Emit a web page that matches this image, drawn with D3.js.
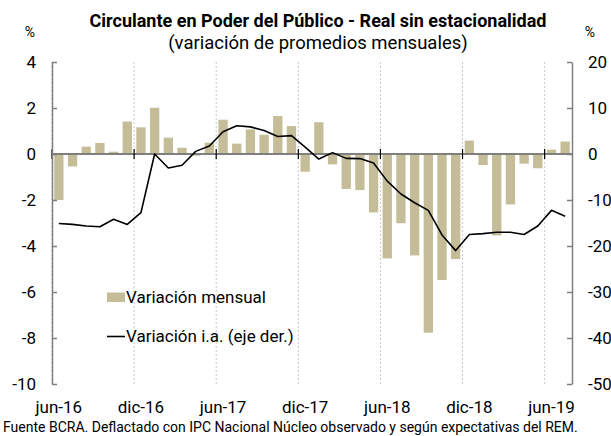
<!DOCTYPE html>
<html>
<head>
<meta charset="utf-8">
<script src="https://cdn.jsdelivr.net/npm/d3@7"></script>
<style>
  html, body { margin: 0; padding: 0; background: #fff; }
  svg { display: block; font-family: Roboto, "Noto Sans", sans-serif; }
</style>
</head>
<body>
<svg id="chart" width="611" height="436"></svg>
<script>
const months = ["jun-16","jul-16","ago-16","sep-16","oct-16","nov-16","dic-16","ene-17","feb-17","mar-17","abr-17","may-17",
  "jun-17","jul-17","ago-17","sep-17","oct-17","nov-17","dic-17","ene-18","feb-18","mar-18","abr-18","may-18",
  "jun-18","jul-18","ago-18","sep-18","oct-18","nov-18","dic-18","ene-19","feb-19","mar-19","abr-19","may-19",
  "jun-19","jul-19"];
const monthly = [-2.0,-0.54,0.32,0.48,0.1,1.41,1.16,2.01,0.71,0.27,-0.07,0.49,
  1.49,0.45,1.07,0.84,1.65,1.22,-0.77,1.38,-0.45,-1.52,-1.57,-2.54,
  -4.54,-3.01,-4.41,-7.77,-5.48,-4.57,0.58,-0.48,-3.54,-2.19,-0.42,-0.62,
  0.19,0.54];
const yoy = [-15.1,-15.3,-15.65,-15.8,-14.2,-15.3,-12.75,0.0,-3.05,-2.45,0.57,1.75,
  4.85,6.15,5.9,5.1,3.8,4.0,1.5,-1.1,0.3,-0.95,-1.0,-1.96,
  -5.9,-8.7,-10.6,-12.25,-17.6,-21.0,-17.5,-17.3,-17.0,-17.0,-17.5,-15.65,
  -12.25,-13.55];
const xLabels = ["jun-16","dic-16","jun-17","dic-17","jun-18","dic-18","jun-19"];
const leftTicks = [-10,-8,-6,-4,-2,0,2,4];
const rightTicks = [-50,-40,-30,-20,-10,0,10,20];
const title = "Circulante en Poder del Público - Real sin estacionalidad";
const subtitle = "(variación de promedios mensuales)";
const source = "Fuente BCRA. Deflactado con IPC Nacional Núcleo observado y según expectativas del REM.";
const legendLabels = ["Variación mensual", "Variación i.a. (eje der.)"];

const svg = d3.select("#chart");
const L = 52, R = 572, T = 62, B = 384;
const barColor = "#c4bd97";

const x = d3.scaleBand().domain(months).range([L, R]).paddingInner(0.32).paddingOuter(0.16);
const yL = d3.scaleLinear().domain([-10, 4]).range([B, T]);
const yR = d3.scaleLinear().domain([-50, 20]).range([B, T]);
const gap = (x.step() - x.bandwidth()) / 2;

// vertical dotted gridlines
svg.append("g").selectAll("line").data(xLabels).join("line")
  .attr("x1", d => x(d) - gap).attr("x2", d => x(d) - gap)
  .attr("y1", T).attr("y2", B)
  .attr("stroke", "#c8c8c8").attr("stroke-width", 1).attr("stroke-dasharray", "2,2");

// bars
svg.append("g").selectAll("rect").data(months).join("rect")
  .attr("x", d => x(d))
  .attr("width", x.bandwidth())
  .attr("y", (d, i) => Math.min(yL(monthly[i]), yL(0)))
  .attr("height", (d, i) => Math.abs(yL(monthly[i]) - yL(0)))
  .attr("fill", barColor);

// zero line
svg.append("line").attr("x1", L).attr("x2", R).attr("y1", yL(0)).attr("y2", yL(0))
  .attr("stroke", "#7f7f7f").attr("stroke-width", 2);
svg.append("g").selectAll("line").data(xLabels).join("line")
  .attr("x1", d => x(d) - gap).attr("x2", d => x(d) - gap)
  .attr("y1", yL(0) - 5).attr("y2", yL(0) + 5)
  .attr("stroke", "#000").attr("stroke-width", 1.2);

// line series
const line = d3.line().x((d, i) => x(months[i]) + x.bandwidth() / 2).y(d => yR(d));
svg.append("path").datum(yoy).attr("d", line)
  .attr("fill", "none").attr("stroke", "#000").attr("stroke-width", 1.6).attr("stroke-linejoin", "round");

// axes
const axL = svg.append("g").attr("transform", `translate(${L},0)`)
  .call(d3.axisLeft(yL).tickValues(leftTicks).tickSize(-5).tickSizeOuter(0).tickPadding(16).tickFormat(d => String(d)));
const axR = svg.append("g").attr("transform", `translate(${R},0)`)
  .call(d3.axisRight(yR).tickValues(rightTicks).tickSize(-5).tickSizeOuter(0).tickPadding(16).tickFormat(d => String(d)));
[axL, axR].forEach(a => {
  a.selectAll("path.domain").attr("stroke", "#7f7f7f").attr("stroke-width", 1.5);
  a.selectAll(".tick line").attr("stroke", "#7f7f7f").attr("stroke-width", 1.5);
  a.selectAll("text").attr("font-size", 17).attr("fill", "#000").attr("font-family", "Roboto");
});

const axB = svg.append("g").attr("transform", `translate(0,${B})`)
  .call(d3.axisBottom(x).tickValues(xLabels).tickSize(0).tickPadding(17));
axB.select("path.domain").remove();
axB.selectAll("text").attr("font-size", 17).attr("fill", "#000").attr("font-family", "Roboto");

// percent signs
svg.append("text").attr("x", 30).attr("y", 37).attr("text-anchor", "middle").attr("font-size", 14).text("%");
svg.append("text").attr("x", 590).attr("y", 37).attr("text-anchor", "middle").attr("font-size", 14).text("%");

// title
const t1 = svg.append("text").attr("x", 318).attr("y", 27).attr("text-anchor", "middle")
  .attr("font-size", 18).attr("font-weight", "bold").text(title);
if (t1.node().getComputedTextLength() > 462) t1.attr("textLength", 462).attr("lengthAdjust", "spacingAndGlyphs");
svg.append("text").attr("x", 318).attr("y", 49).attr("text-anchor", "middle")
  .attr("font-size", 18.5).text(subtitle);

// legend
svg.append("rect").attr("x", 107).attr("y", 292.5).attr("width", 18).attr("height", 9.5).attr("fill", barColor);
svg.append("text").attr("x", 126).attr("y", 302.5).attr("font-size", 17).text(legendLabels[0]);
svg.append("line").attr("x1", 107).attr("x2", 125).attr("y1", 336.5).attr("y2", 336.5).attr("stroke", "#000").attr("stroke-width", 1.6);
svg.append("text").attr("x", 126).attr("y", 341.5).attr("font-size", 17).text(legendLabels[1]);

// source
const src = svg.append("text").attr("x", 3).attr("y", 432).attr("font-size", 14).text(source);
if (src.node().getComputedTextLength() > 594) src.attr("textLength", 594).attr("lengthAdjust", "spacingAndGlyphs");
</script>
</body>
</html>
